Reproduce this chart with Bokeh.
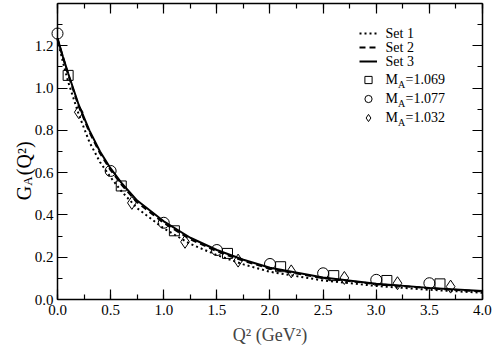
import math
from bokeh.plotting import figure
from bokeh.models import (Range1d, LinearAxis, SingleIntervalTicker, PrintfTickFormatter,
                          CustomJSTickFormatter, Legend, LegendItem, Label)
from bokeh.embed import file_html
from bokeh.resources import INLINE

# ---- data ----
q2_curve = [0.0, 0.05, 0.1, 0.2, 0.3, 0.4, 0.5, 0.6, 0.75, 1.0, 1.25, 1.5, 1.75, 2.0, 2.5, 3.0, 3.5, 4.0]
set1 = [1.23, 1.125, 1.03, 0.875, 0.745, 0.65, 0.578, 0.513, 0.432, 0.336, 0.263, 0.210, 0.166, 0.131, 0.090, 0.064, 0.046, 0.032]
set2 = [1.235, 1.147, 1.065, 0.913, 0.792, 0.692, 0.612, 0.545, 0.460, 0.362, 0.285, 0.228, 0.183, 0.146, 0.101, 0.073, 0.053, 0.038]
set3 = [1.235, 1.15, 1.07, 0.92, 0.80, 0.70, 0.62, 0.553, 0.468, 0.370, 0.292, 0.234, 0.188, 0.150, 0.104, 0.075, 0.055, 0.040]

q2_1069 = [0.1, 0.6, 1.1, 1.6, 2.1, 2.6, 3.1, 3.6]
ga_1069 = [1.06, 0.537, 0.325, 0.218, 0.155, 0.113, 0.090, 0.074]
q2_1077 = [0.0, 0.5, 1.0, 1.5, 2.0, 2.5, 3.0, 3.5]
ga_1077 = [1.258, 0.608, 0.363, 0.234, 0.168, 0.124, 0.093, 0.077]
q2_1032 = [0.2, 0.7, 1.2, 1.7, 2.2, 2.7, 3.2, 3.7]
ga_1032 = [0.886, 0.457, 0.273, 0.184, 0.133, 0.102, 0.077, 0.061]

line_labels = ["Set 1", "Set 2", "Set 3"]
marker_values = ["=1.069", "=1.077", "=1.032"]

SERIF = "Liberation Serif"
X_MIN, X_MAX, Y_MIN, Y_MAX = 0.0, 4.0, 0.0, 1.4
# the frame covers the whole canvas; axes are pinned inside it
VIEW_X = (-0.5365, 4.1224)
VIEW_Y = (-0.2270, 1.4142)

p = figure(width=495, height=347, output_backend="svg", toolbar_location=None,
           x_range=Range1d(*VIEW_X), y_range=Range1d(*VIEW_Y),
           x_axis_location=None, y_axis_location=None,
           min_border=0, min_border_left=0, min_border_right=0,
           min_border_top=0, min_border_bottom=0)
p.grid.visible = False
p.outline_line_color = None
p.background_fill_color = "white"
p.border_fill_color = "white"


def style_axis(ax, interval, labels=True):
    ax.ticker = SingleIntervalTicker(interval=interval, num_minor_ticks=2)
    ax.axis_line_color = "black"
    ax.axis_line_width = 1.5
    ax.major_tick_in = 10
    ax.major_tick_out = 0
    ax.minor_tick_in = 5
    ax.minor_tick_out = 0
    ax.major_tick_line_width = 1.2
    ax.minor_tick_line_width = 1.2
    ax.major_tick_line_color = "black"
    ax.minor_tick_line_color = "black"
    ax.major_label_text_font = SERIF
    ax.major_label_text_font_size = "15px"
    ax.major_label_text_color = "black"
    if labels:
        ax.formatter = PrintfTickFormatter(format="%.1f")
    else:
        ax.formatter = CustomJSTickFormatter(code="return ''")


# bottom axis pinned at y = 0
xb = LinearAxis(fixed_location=Y_MIN, bounds=(X_MIN, X_MAX))
style_axis(xb, 0.5)
xb.major_label_standoff = 5
xb.axis_label = "Q\u00b2 (GeV\u00b2)"
xb.axis_label_text_font = SERIF
xb.axis_label_text_font_size = "18px"
xb.axis_label_text_font_style = "normal"
xb.axis_label_standoff = 7
p.add_layout(xb, "below")

# left axis pinned at x = 0
yl = LinearAxis(fixed_location=X_MIN, bounds=(Y_MIN, Y_MAX))
style_axis(yl, 0.2)
yl.major_label_standoff = 4
p.add_layout(yl, "left")

# top and right mirror axes
xt = LinearAxis(fixed_location=Y_MAX, bounds=(X_MIN, X_MAX))
style_axis(xt, 0.5, labels=False)
p.add_layout(xt, "above")
yr = LinearAxis(fixed_location=X_MAX, bounds=(Y_MIN, Y_MAX))
style_axis(yr, 0.2, labels=False)
p.add_layout(yr, "right")

r1 = p.line(q2_curve, set1, line_color="black", line_width=2, line_dash="2 3")
r2 = p.line(q2_curve, set2, line_color="black", line_width=2, line_dash="6 4")
r3 = p.line(q2_curve, set3, line_color="black", line_width=2)

m1 = p.scatter(q2_1069, ga_1069, marker="square", size=10, line_color="black", line_width=1, fill_alpha=0)
m2 = p.scatter(q2_1077, ga_1077, marker="circle", size=11, line_color="black", line_width=1, fill_alpha=0)
m3 = p.scatter(q2_1032, ga_1032, marker="diamond", size=13, line_color="black", line_width=1, fill_alpha=0)


def style_legend(lg, row_h):
    lg.background_fill_alpha = 0
    lg.border_line_alpha = 0
    lg.label_text_font = SERIF
    lg.label_text_font_size = "9px"
    lg.label_text_color = "black"
    lg.glyph_width = 18
    lg.glyph_height = row_h
    lg.label_height = row_h
    lg.padding = 0
    lg.margin = 0
    lg.spacing = 0
    lg.label_standoff = 8


leg1 = Legend(items=[LegendItem(label=" ", renderers=[r]) for r in [r1, r2, r3]],
              location=(359, 279))
style_legend(leg1, 14)
p.add_layout(leg1)

leg2 = Legend(items=[LegendItem(label=" ", renderers=[r]) for r in [m1, m2, m3]],
              location=(359, 220))
style_legend(leg2, 19)
p.add_layout(leg2)

TXT_X = 3.087
# line legend texts
line_row_y = [1.2581, 1.1919, 1.1257]
for yv, txt in zip(line_row_y, line_labels):
    p.add_layout(Label(x=TXT_X, y=yv, text=txt, text_font=SERIF, text_font_size="14px",
                       text_baseline="middle", text_align="left", text_color="black"))

# marker legend texts M_A=...
row_y = [1.0405, 0.9507, 0.8608]
for yv, txt in zip(row_y, marker_values):
    p.add_layout(Label(x=TXT_X, y=yv, text="M", text_font=SERIF, text_font_size="14px",
                       text_baseline="middle", text_align="left", text_color="black"))
    p.add_layout(Label(x=TXT_X, y=yv, x_offset=12.5, y_offset=-5, text="A", text_font=SERIF,
                       text_font_size="10px", text_baseline="middle", text_align="left", text_color="black"))
    p.add_layout(Label(x=TXT_X, y=yv, x_offset=20, text=txt, text_font=SERIF, text_font_size="14px",
                       text_baseline="middle", text_align="left", text_color="black"))

# y-axis title G_A(Q^2)
ang = math.pi / 2
p.add_layout(Label(x=X_MIN, y=0.47, x_offset=-34, text="G", angle=ang, text_font=SERIF,
                   text_font_size="20px", text_align="left", text_baseline="alphabetic", text_color="black"))
p.add_layout(Label(x=X_MIN, y=0.47, x_offset=-30, y_offset=14.5, text="A", angle=ang, text_font=SERIF,
                   text_font_size="13px", text_align="left", text_baseline="alphabetic", text_color="black"))
p.add_layout(Label(x=X_MIN, y=0.47, x_offset=-34, y_offset=25, text="(Q\u00b2)", angle=ang, text_font=SERIF,
                   text_font_size="20px", text_align="left", text_baseline="alphabetic", text_color="black"))

open("out.html", "w").write(file_html(p, INLINE))
